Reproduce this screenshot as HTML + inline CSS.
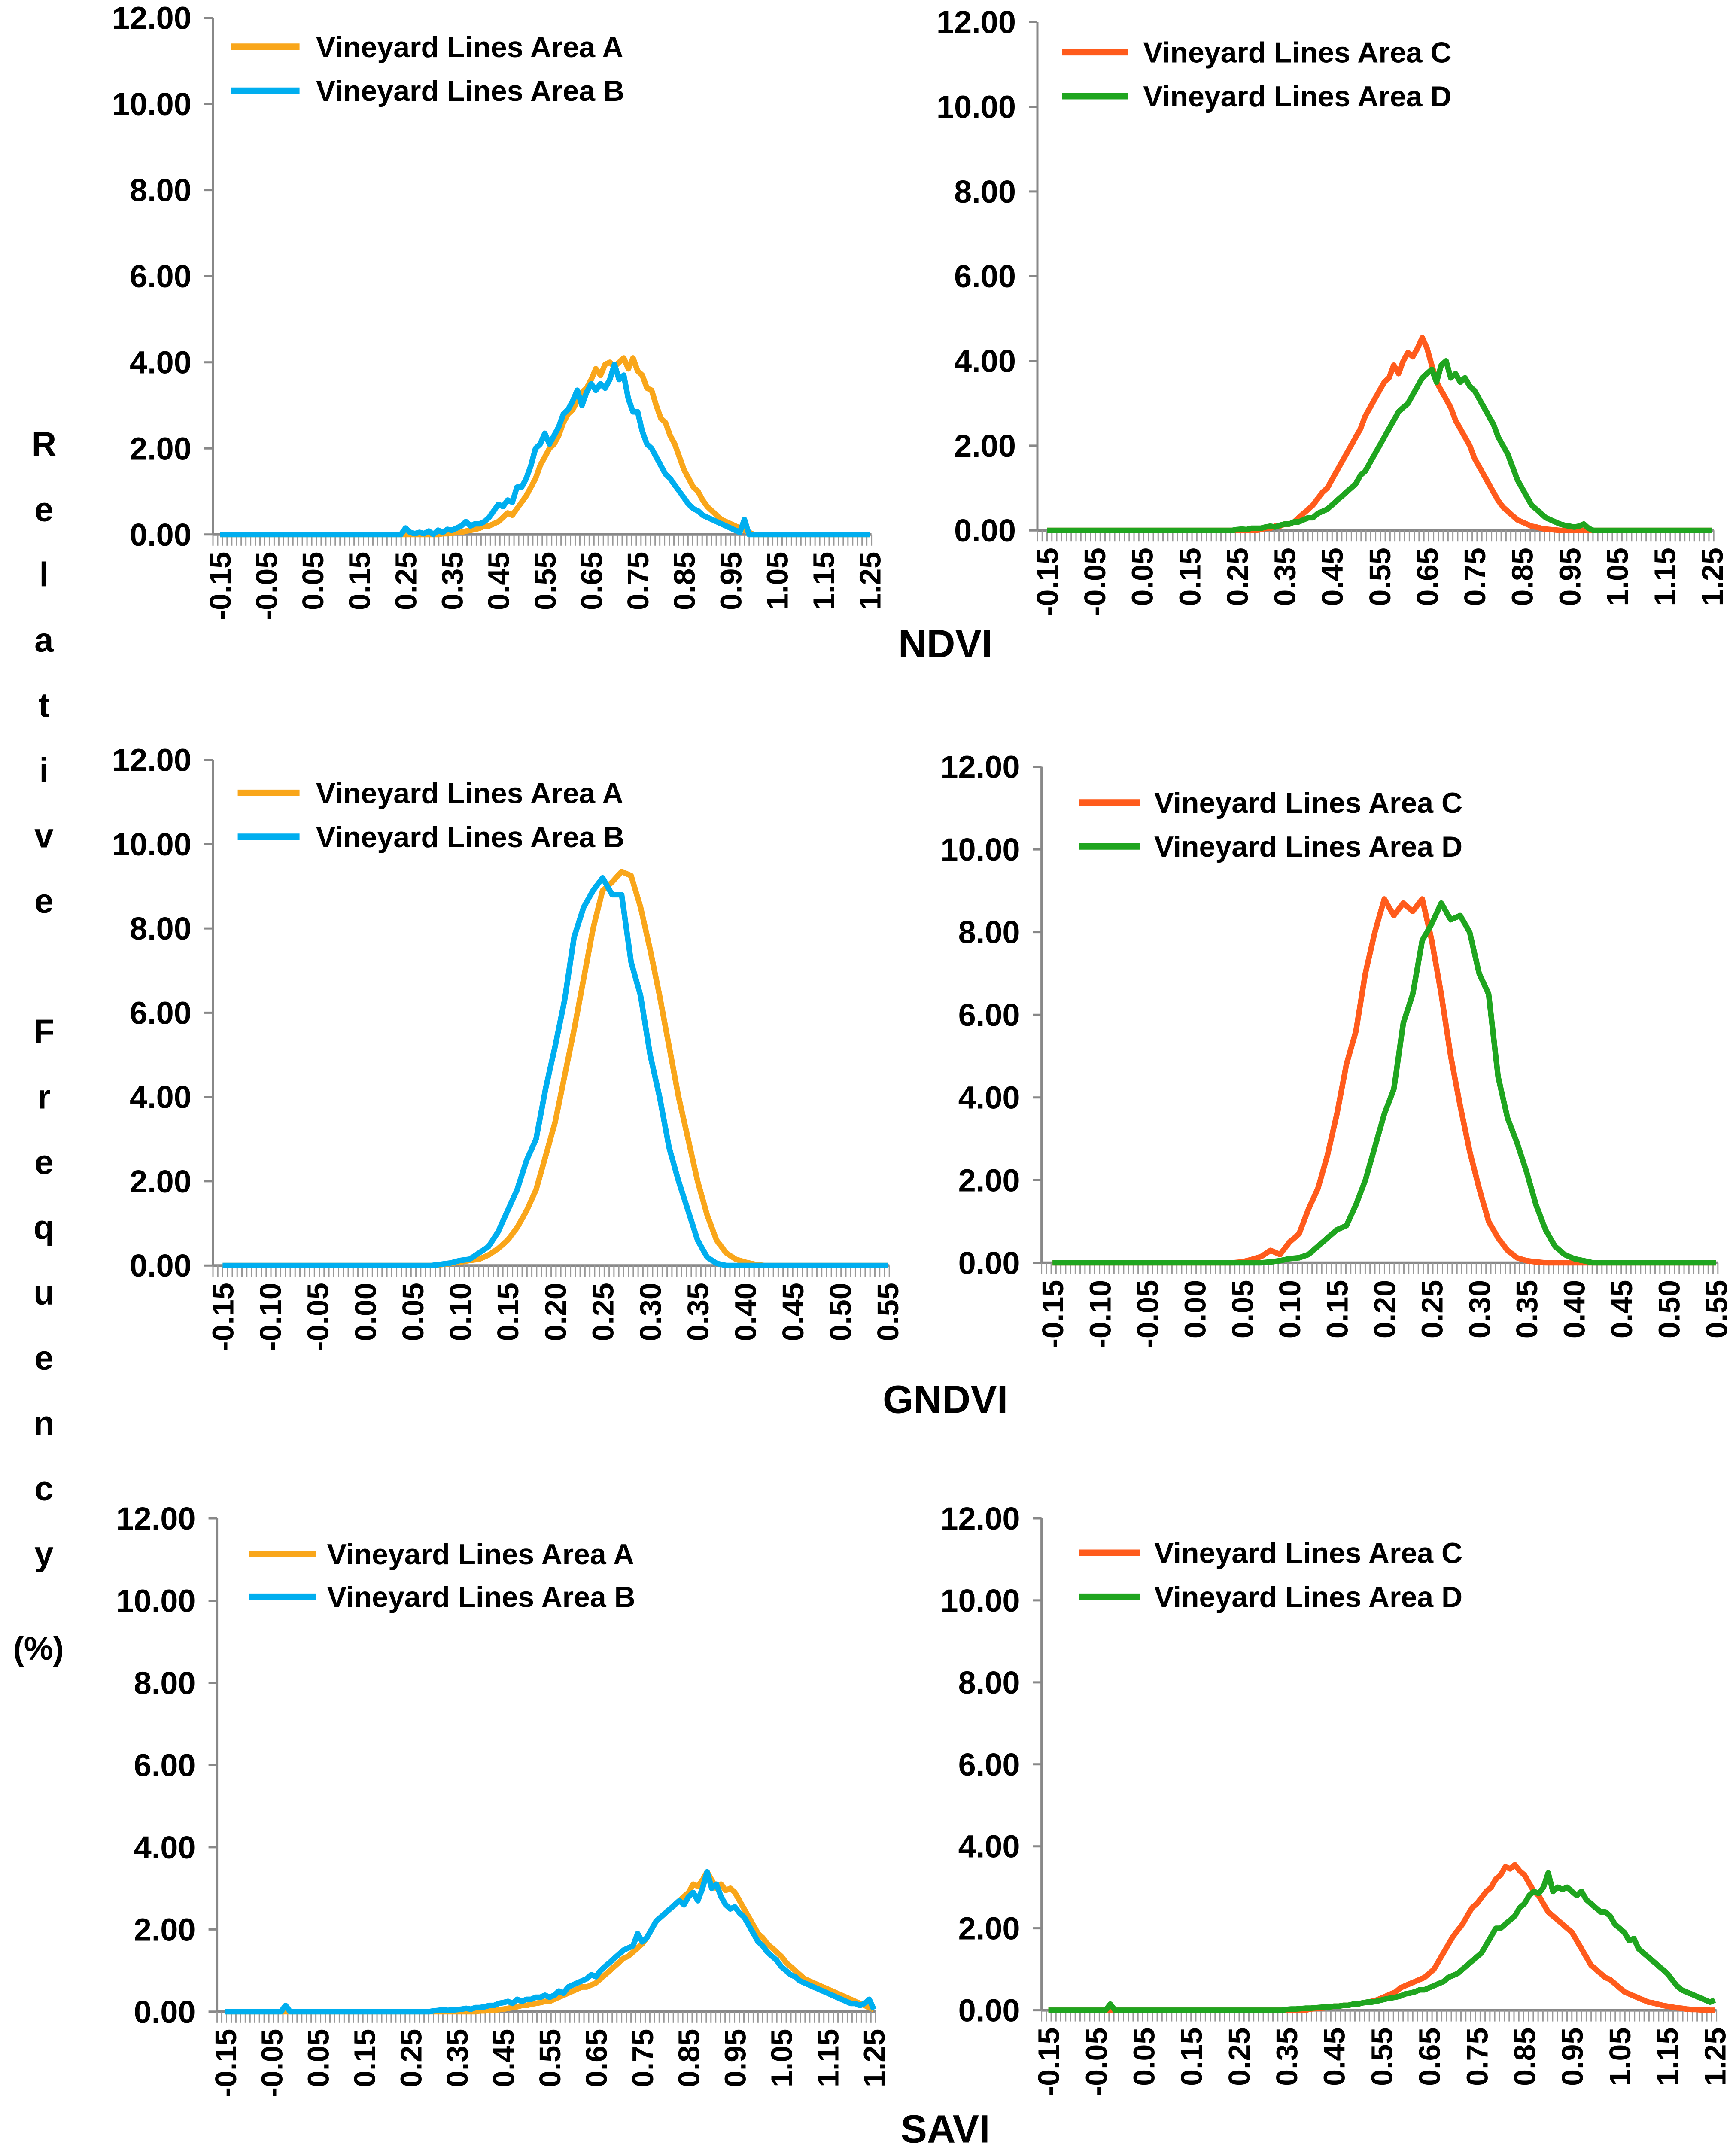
<!DOCTYPE html>
<html><head><meta charset="utf-8"><style>
html,body{margin:0;padding:0;background:#fff;overflow:hidden}
svg{display:block}
text{font-family:"Liberation Sans",sans-serif;font-weight:bold;fill:#000}
</style></head><body>
<svg id="fig" xmlns="http://www.w3.org/2000/svg" width="4043" height="5028" viewBox="0 0 4043 5028"></svg>
<script>
// ---- data (relative frequency %, 0.01 bins) ----
const ndviAStart = 0.30;
const ndviA = [0,0,0,0.02,0.02,0.03,0.05,0.05,0.08,0.1, 0.12,0.15,0.2,0.2,0.25,0.3,0.4,0.5,0.45,0.6, 0.75,0.9,1.1,1.3,1.6,1.8,2.0,2.1,2.3,2.6, 2.8,2.9,3.1,3.3,3.4,3.6,3.85,3.7,3.95,4.0, 3.9,4.0,4.1,3.85,4.1,3.8,3.7,3.4,3.35,3.0, 2.7,2.6,2.3,2.1,1.8,1.5,1.3,1.1,1.0,0.8, 0.65,0.55,0.45,0.35,0.3,0.25,0.2,0.15,0.1,0.05, 0];
const ndviBStart = 0.25;
const ndviB = [0.15,0.05,0.02,0.05,0.02, 0.08,0.0,0.1,0.05,0.12,0.1,0.15,0.2,0.3,0.2, 0.25,0.25,0.3,0.4,0.55,0.7,0.65,0.8,0.75,1.1, 1.1,1.3,1.6,2.0,2.1,2.35,2.1,2.3,2.5,2.8, 2.9,3.1,3.35,3.0,3.3,3.5,3.35,3.5,3.4,3.6, 3.95,3.6,3.7,3.15,2.85,2.85,2.4,2.1,2.0,1.8, 1.6,1.4,1.3,1.15,1.0,0.85,0.7,0.6,0.55,0.45, 0.4,0.35,0.3,0.25,0.2,0.15,0.1,0.05,0.35,0, 0];
const ndviCStart = 0.30;
const ndviC = [0.02,0.05,0.05,0.1,0.1,0.15,0.15,0.2,0.3,0.4, 0.5,0.6,0.75,0.9,1.0,1.2,1.4,1.6,1.8,2.0, 2.2,2.4,2.7,2.9,3.1,3.3,3.5,3.6,3.9,3.7, 4.0,4.2,4.1,4.3,4.55,4.3,3.9,3.5,3.3,3.1, 2.9,2.6,2.4,2.2,2.0,1.7,1.5,1.3,1.1,0.9, 0.7,0.55,0.45,0.35,0.25,0.2,0.15,0.1,0.08,0.05, 0.03,0.02,0.01,0];
const ndviDStart = 0.25;
const ndviD = [0.02,0.03,0.02,0.05,0.05, 0.05,0.08,0.1,0.08,0.12,0.15,0.15,0.2,0.2,0.25, 0.3,0.3,0.4,0.45,0.5,0.6,0.7,0.8,0.9,1.0, 1.1,1.3,1.4,1.6,1.8,2.0,2.2,2.4,2.6,2.8, 2.9,3.0,3.2,3.4,3.6,3.7,3.8,3.5,3.9,4.0, 3.6,3.7,3.5,3.6,3.4,3.3,3.1,2.9,2.7,2.5, 2.2,2.0,1.8,1.5,1.2,1.0,0.8,0.6,0.5,0.4, 0.3,0.25,0.2,0.15,0.12,0.1,0.08,0.1,0.15,0.05, 0];
const gndviAStart = 0.08;
const gndviA = [0.02,0.05,0.08,0.12,0.15,0.25,0.4,0.6,0.9,1.3,1.8,2.6,3.4,4.5,5.6,6.8,8.0,8.9,9.1,9.35,9.25,8.5,7.5,6.4,5.2,4.0,3.0,2.0,1.2,0.6,0.3,0.15,0.08,0.03,0];
const gndviBStart = 0.08;
const gndviB = [0.03,0.06,0.12,0.15,0.3,0.45,0.8,1.3,1.8,2.5,3.0,4.2,5.2,6.3,7.8,8.5,8.9,9.2,8.8,8.8,7.2,6.4,5.0,4.0,2.8,2.0,1.3,0.6,0.2,0.05,0,0,0,0,0];
const gndviCStart = 0.05;
const gndviC = [0.02,0.08,0.15,0.3,0.2,0.5,0.7,1.3,1.8,2.6,3.6,4.8,5.6,7.0,8.0,8.8,8.4,8.7,8.5,8.8,7.8,6.5,5.0,3.8,2.7,1.8,1.0,0.6,0.3,0.12,0.05,0.02,0,0,0];
const gndviDStart = 0.08;
const gndviD = [0.02,0.05,0.1,0.12,0.2,0.4,0.6,0.8,0.9,1.4,2.0,2.8,3.6,4.2,5.8,6.5,7.8,8.2,8.7,8.3,8.4,8.0,7.0,6.5,4.5,3.5,2.9,2.2,1.4,0.8,0.4,0.2,0.1,0.05,0];
const saviAStart = 0.40;
const saviA = [0.02,0.02,0.03,0.04,0.05,0.06,0.08,0.1,0.12,0.15, 0.15,0.18,0.2,0.22,0.25,0.25,0.3,0.35,0.4,0.45, 0.5,0.55,0.6,0.6,0.65,0.7,0.8,0.9,1.0,1.1, 1.2,1.3,1.35,1.45,1.55,1.65,1.8,2.0,2.2,2.3, 2.4,2.5,2.6,2.7,2.8,2.9,3.1,3.05,3.2,3.4, 3.2,3.0,3.1,2.95,3.0,2.9,2.7,2.5,2.3,2.1, 1.9,1.8,1.65,1.55,1.45,1.35,1.2,1.1,1.0,0.9, 0.8,0.75,0.7,0.65,0.6,0.55,0.5,0.45,0.4,0.35, 0.3,0.25,0.2,0.15,0.1,0.05];
const saviBStart = 0.30;
const saviB = [0.02,0.03,0.05,0.03,0.04,0.05,0.06,0.08,0.06,0.1, 0.1,0.12,0.15,0.15,0.2,0.22,0.25,0.2,0.3,0.25, 0.3,0.3,0.35,0.35,0.4,0.35,0.4,0.5,0.45,0.6, 0.65,0.7,0.75,0.8,0.9,0.85,1.0,1.1,1.2,1.3, 1.4,1.5,1.55,1.6,1.9,1.7,1.8,2.0,2.2,2.3, 2.4,2.5,2.6,2.7,2.6,2.8,2.9,2.7,3.0,3.4, 3.0,3.1,2.8,2.6,2.5,2.55,2.4,2.3,2.1,1.9, 1.7,1.6,1.45,1.35,1.25,1.1,1.0,0.9,0.85,0.75, 0.7,0.65,0.6,0.55,0.5,0.45,0.4,0.35,0.3,0.25, 0.2,0.2,0.15,0.2,0.3,0.05];
const saviBSpikeX = [-0.02];
const saviBSpikeY = [0.15];
const saviCStart = 0.40;
const saviC = [0.03,0.04,0.05,0.06,0.08,0.1,0.1,0.12,0.12,0.15, 0.15,0.18,0.2,0.22,0.25,0.3,0.35,0.4,0.45,0.55, 0.6,0.65,0.7,0.75,0.8,0.9,1.0,1.2,1.4,1.6, 1.8,1.95,2.1,2.3,2.5,2.6,2.75,2.9,3.0,3.2, 3.3,3.5,3.45,3.55,3.4,3.3,3.1,2.9,2.8,2.6, 2.4,2.3,2.2,2.1,2.0,1.9,1.7,1.5,1.3,1.1, 1.0,0.9,0.8,0.75,0.65,0.55,0.45,0.4,0.35,0.3, 0.25,0.2,0.18,0.15,0.12,0.1,0.08,0.06,0.05,0.03, 0.02,0.02,0.01,0.01,0];
const saviDStart = 0.35;
const saviD = [0.02,0.03,0.03,0.04,0.05, 0.05,0.06,0.07,0.08,0.08,0.1,0.1,0.12,0.12,0.15, 0.15,0.18,0.2,0.2,0.22,0.25,0.28,0.3,0.32,0.35, 0.4,0.42,0.45,0.5,0.5,0.55,0.6,0.65,0.7,0.8, 0.85,0.9,1.0,1.1,1.2,1.3,1.4,1.6,1.8,2.0, 2.0,2.1,2.2,2.3,2.5,2.6,2.8,2.9,2.85,3.0, 3.35,2.9,3.0,2.95,3.0,2.9,2.8,2.9,2.7,2.6, 2.5,2.4,2.4,2.3,2.1,2.0,1.9,1.7,1.75,1.5, 1.4,1.3,1.2,1.1,1.0,0.9,0.75,0.6,0.5,0.45, 0.4,0.35,0.3,0.25,0.2,0.25];
const saviDSpikeX = [-0.02];
const saviDSpikeY = [0.15];
const yTicks = [0,2,4,6,8,10,12];
const wideLabels = ["-0.15","-0.05","0.05","0.15","0.25","0.35","0.45","0.55","0.65","0.75","0.85","0.95","1.05","1.15","1.25"];
const gLabels = ["-0.15","-0.10","-0.05","0.00","0.05","0.10","0.15","0.20","0.25","0.30","0.35","0.40","0.45","0.50","0.55"];
const yTitle = ["R","e","l","a","t","i","v","e","","F","r","e","q","u","e","n","c","y"];

const S = 3.2;
const NS = "http://www.w3.org/2000/svg";
const svg = document.getElementById('fig');
function mk(tag, attrs, parent){const e=document.createElementNS(NS,tag);for(const k in attrs)e.setAttribute(k,attrs[k]);(parent||svg).appendChild(e);return e;}

const COL = {A:"#F9A61A",B:"#00AEEF",C:"#FF5B1C",D:"#1FA51F"};

function series(start, vals, xmin, xmax, spikeX, spikeY){
  const n = Math.round((xmax-xmin)*100);
  const arr = new Array(n+1).fill(0);
  vals.forEach((v,i)=>{const k=Math.round((start+i*0.01-xmin)*100); if(k>=0&&k<=n) arr[k]=v;});
  if(spikeX) spikeX.forEach((x,i)=>{const k=Math.round((x-xmin)*100); arr[k]=spikeY[i];});
  return arr.map((v,k)=>[xmin+k*0.01,v]);
}

function panel(cfg){
  const g = mk('g',{});
  
  
  const ax=cfg.ax*S, y0=cfg.y0*S, y12=cfg.y12*S;
  const xl=cfg.xl*S, xr=cfg.xr*S;
  const X = v => xl + (v-cfg.xmin)/(cfg.xmax-cfg.xmin)*(xr-xl);
  const Y = v => y0 - v/12*(y0-y12);
  const right = X(cfg.xmax)+4;
  const ya = mk('line',{x1:ax,y1:y12,x2:ax,y2:y0,stroke:"#888",'stroke-width':5},g);
  
  
  yTicks.forEach(t=>{
    mk('line',{x1:ax-20,y1:Y(t),x2:ax,y2:Y(t),stroke:"#888",'stroke-width':5},g);
    const tx = mk('text',{x:ax-50,y:Y(t)+26,'text-anchor':'end','font-size':74},g);
    tx.textContent=t.toFixed(2);
    
    
  });
  const xa = mk('line',{x1:ax,y1:y0,x2:right,y2:y0,stroke:"#888",'stroke-width':6},g);
  
  
  for(let i=0;i<=140;i++){
    const xx = ax + (right-ax)*i/140;
    mk('line',{x1:xx,y1:y0,x2:xx,y2:y0+26,stroke:"#999",'stroke-width':3},g);
  }
  cfg.labels.forEach((lab,i)=>{
    const xx = xl + (xr-xl)*i/(cfg.labels.length-1);
    const ty = y0+40;
    const t = mk('text',{x:xx,y:ty,'text-anchor':'end','font-size':70,transform:`rotate(-90 ${xx} ${ty})`,dy:25},g);
    t.textContent=lab;
    
    
  });
  cfg.series.forEach(s=>{
    const pts = s.data.map(([x,v])=>X(x).toFixed(1)+","+Y(v).toFixed(1)).join(" ");
    const p = mk('polyline',{points:pts,fill:"none",stroke:s.color,'stroke-width':13,'stroke-linejoin':'round'},g);
    
    
  });
  cfg.series.forEach((s,i)=>{
    const ly=(i===0?cfg.ly1:cfg.ly2)*S;
    const lg = mk('g',{},g);
    
    
    mk('line',{x1:cfg.lx1*S,y1:ly,x2:cfg.lx2*S,y2:ly,stroke:s.color,'stroke-width':15},lg);
    const t=mk('text',{x:cfg.tx*S,y:ly+24,'font-size':68},lg);
    t.textContent="Vineyard Lines Area "+s.key;
  });
}

function mkS(key,start,vals,xmin,xmax,sx,sy){return {key,color:COL[key],data:series(start,vals,xmin,xmax,sx,sy)};}
function mkG(key,start,vals){return {key,color:COL[key],data:series(start,vals,-0.15,0.55)};}

panel({name:'ndvi-ab-chart',ax:155,y12:13,y0:389,xl:160,xr:633,xmin:-0.15,xmax:1.25,labels:wideLabels,lx1:168,lx2:218,ly1:34,ly2:66,tx:230,
  series:[mkS('A',ndviAStart,ndviA,-0.15,1.25),mkS('B',ndviBStart,ndviB,-0.15,1.25)]});
panel({name:'ndvi-cd-chart',ax:755,y12:16,y0:386,xl:762,xr:1246,xmin:-0.15,xmax:1.25,labels:wideLabels,lx1:773,lx2:821,ly1:38,ly2:70,tx:832,
  series:[mkS('C',ndviCStart,ndviC,-0.15,1.25),mkS('D',ndviDStart,ndviD,-0.15,1.25)]});
panel({name:'gndvi-ab-chart',ax:155,y12:553,y0:921,xl:162,xr:646,xmin:-0.15,xmax:0.55,labels:gLabels,lx1:173,lx2:218,ly1:577,ly2:609,tx:230,
  series:[mkG('A',gndviAStart,gndviA),mkG('B',gndviBStart,gndviB)]});
panel({name:'gndvi-cd-chart',ax:758,y12:558,y0:919,xl:766,xr:1249,xmin:-0.15,xmax:0.55,labels:gLabels,lx1:785,lx2:830,ly1:584,ly2:616,tx:840,
  series:[mkG('C',gndviCStart,gndviC),mkG('D',gndviDStart,gndviD)]});
panel({name:'savi-ab-chart',ax:158,y12:1105,y0:1464,xl:164,xr:636,xmin:-0.15,xmax:1.25,labels:wideLabels,lx1:181,lx2:230,ly1:1131,ly2:1162,tx:238,
  series:[mkS('A',saviAStart,saviA,-0.15,1.25),mkS('B',saviBStart,saviB,-0.15,1.25,saviBSpikeX,saviBSpikeY)]});
panel({name:'savi-cd-chart',ax:758,y12:1105,y0:1463,xl:763,xr:1248,xmin:-0.15,xmax:1.25,labels:wideLabels,lx1:785,lx2:830,ly1:1130,ly2:1162,tx:840,
  series:[mkS('C',saviCStart,saviC,-0.15,1.25),mkS('D',saviDStart,saviD,-0.15,1.25,saviDSpikeX,saviDSpikeY)]});

[["NDVI",472],["GNDVI",1022],["SAVI",1553]].forEach(([t,y])=>{
  const e=mk('text',{x:688*S,y:y*S+20,'text-anchor':'middle','font-size':92});
  e.textContent=t;
  
  
});
const yt = mk('g',{});


yTitle.forEach((ch,i)=>{
  if(!ch) return;
  const e=mk('text',{x:32*S,y:(323+i*47.5)*S+28,'text-anchor':'middle','font-size':80},yt);
  e.textContent=ch;
});
const pc=mk('text',{x:28*S,y:1199*S+28,'text-anchor':'middle','font-size':76},yt);
pc.textContent="(%)";
</script>
</body></html>
